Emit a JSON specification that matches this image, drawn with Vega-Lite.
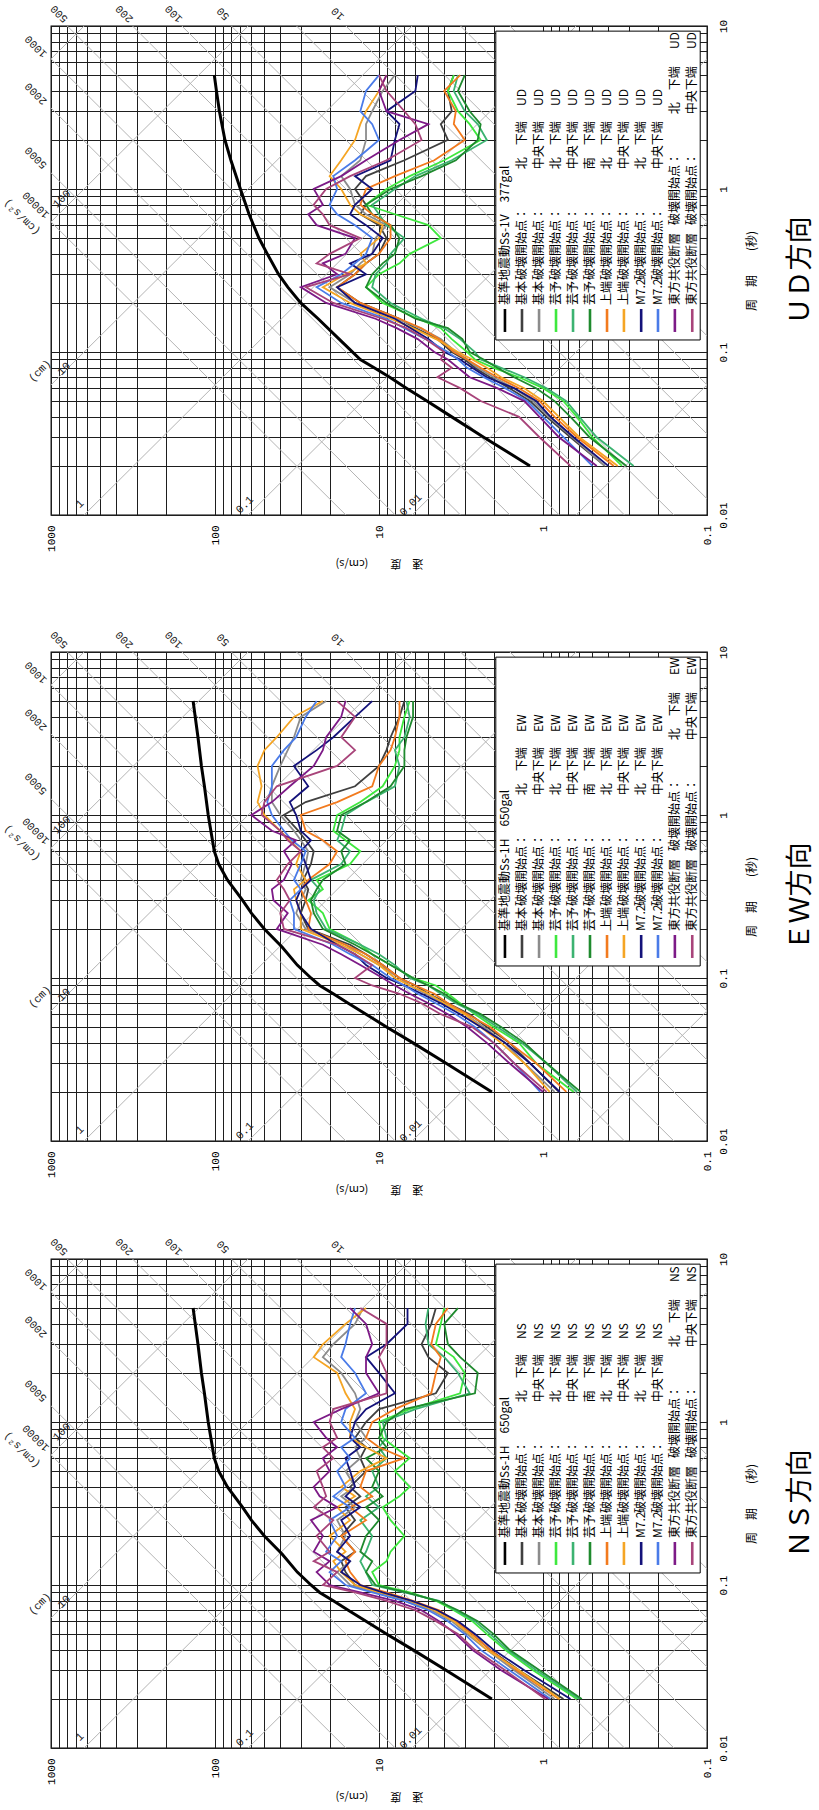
{
"$schema": "https://vega.github.io/schema/vega-lite/v6.json",
"padding": {"left": 0, "top": 2, "right": 0, "bottom": 0},
"background": "#ffffff",
"spacing": 58,
"config": {"view": {"stroke": "#000000", "strokeWidth": 1.3}},
"datasets": {
"diag": [
{"T1":0.005,"V1":0.00079577,"T2":20,"V2":3.1831},
{"T1":0.005,"V1":0.0015915,"T2":20,"V2":6.3662},
{"T1":0.005,"V1":0.0039789,"T2":20,"V2":15.915},
{"T1":0.005,"V1":0.0079577,"T2":20,"V2":31.831},
{"T1":0.005,"V1":0.015915,"T2":20,"V2":63.662},
{"T1":0.005,"V1":0.039789,"T2":20,"V2":159.15},
{"T1":0.005,"V1":0.079577,"T2":20,"V2":318.31},
{"T1":0.005,"V1":0.15915,"T2":20,"V2":636.62},
{"T1":0.005,"V1":0.39789,"T2":20,"V2":1591.5},
{"T1":0.005,"V1":0.79577,"T2":20,"V2":3183.1},
{"T1":0.005,"V1":1.5915,"T2":20,"V2":6366.2},
{"T1":0.005,"V1":3.9789,"T2":20,"V2":15915},
{"T1":0.005,"V1":7.9577,"T2":20,"V2":31831},
{"T1":0.005,"V1":1.2566,"T2":20,"V2":0.00031416},
{"T1":0.005,"V1":12.566,"T2":20,"V2":0.0031416},
{"T1":0.005,"V1":125.66,"T2":20,"V2":0.031416},
{"T1":0.005,"V1":1256.6,"T2":20,"V2":0.31416},
{"T1":0.005,"V1":12566,"T2":20,"V2":3.1416},
{"T1":0.005,"V1":125664,"T2":20,"V2":31.416},
{"T1":0.005,"V1":1256637,"T2":20,"V2":314.16}
],
"box": [{"V1":1.94,"V2":0.11,"T1":0.1185,"T2":9.3}],
"albl": [
{"txt":"500","T":11.9,"V":889},{"txt":"200","T":11.9,"V":356},{"txt":"100","T":11.9,"V":178},{"txt":"50","T":11.9,"V":89},{"txt":"10","T":11.9,"V":17.8},
{"txt":"1000","T":7.5,"V":1234},{"txt":"2000","T":3.85,"V":1234},{"txt":"5000","T":1.56,"V":1234},{"txt":"10000","T":0.8,"V":1234},{"txt":"(cm/s²)","T":0.673,"V":1503}
],
"dlbl": [
{"txt":"1","T":0.01168,"V":665},{"txt":"0.1","T":0.01152,"V":65.7},{"txt":"0.01","T":0.01152,"V":6.39},
{"txt":"10","T":0.0787,"V":833},{"txt":"(cm)","T":0.0765,"V":1167},{"txt":"100","T":0.868,"V":857}
],
"legrow": [
{"k":1,"LV":1.706,"T1":0.1327,"T2":0.1836,"TS":0.1942,"TD":3.23},
{"k":2,"LV":1.343,"T1":0.1327,"T2":0.1836,"TS":0.1942,"TD":3.23},
{"k":3,"LV":1.057,"T1":0.1327,"T2":0.1836,"TS":0.1942,"TD":3.23},
{"k":4,"LV":0.833,"T1":0.1327,"T2":0.1836,"TS":0.1942,"TD":3.23},
{"k":5,"LV":0.656,"T1":0.1327,"T2":0.1836,"TS":0.1942,"TD":3.23},
{"k":6,"LV":0.517,"T1":0.1327,"T2":0.1836,"TS":0.1942,"TD":3.23},
{"k":7,"LV":0.407,"T1":0.1327,"T2":0.1836,"TS":0.1942,"TD":3.23},
{"k":8,"LV":0.321,"T1":0.1327,"T2":0.1836,"TS":0.1942,"TD":3.23},
{"k":9,"LV":0.252,"T1":0.1327,"T2":0.1836,"TS":0.1942,"TD":3.23},
{"k":10,"LV":0.199,"T1":0.1327,"T2":0.1836,"TS":0.1942,"TD":3.23},
{"k":11,"LV":0.157,"T1":0.1327,"T2":0.1836,"TS":0.1942,"TD":7.22},
{"k":12,"LV":0.123,"T1":0.1327,"T2":0.1836,"TS":0.1942,"TD":7.22}
],
"legtxt": [
{"k":2,"LV":1.343,"T":0.1942,"txt":"基本"},{"k":2,"LV":1.343,"T":0.2765,"txt":"破壊開始点：　　　 北　下端"},
{"k":3,"LV":1.057,"T":0.1942,"txt":"基本"},{"k":3,"LV":1.057,"T":0.2765,"txt":"破壊開始点：　　　 中央下端"},
{"k":4,"LV":0.833,"T":0.1942,"txt":"芸予"},{"k":4,"LV":0.833,"T":0.2765,"txt":"破壊開始点：　　　 北　下端"},
{"k":5,"LV":0.656,"T":0.1942,"txt":"芸予"},{"k":5,"LV":0.656,"T":0.2765,"txt":"破壊開始点：　　　 中央下端"},
{"k":6,"LV":0.517,"T":0.1942,"txt":"芸予"},{"k":6,"LV":0.517,"T":0.2765,"txt":"破壊開始点：　　　 南　下端"},
{"k":7,"LV":0.407,"T":0.1942,"txt":"上端"},{"k":7,"LV":0.407,"T":0.2765,"txt":"破壊開始点：　　　 北　下端"},
{"k":8,"LV":0.321,"T":0.1942,"txt":"上端"},{"k":8,"LV":0.321,"T":0.2765,"txt":"破壊開始点：　　　 中央下端"},
{"k":9,"LV":0.252,"T":0.1942,"txt":"M7.2"},{"k":9,"LV":0.252,"T":0.2765,"txt":"破壊開始点：　　　 北　下端"},
{"k":10,"LV":0.199,"T":0.1942,"txt":"M7.2"},{"k":10,"LV":0.199,"T":0.2765,"txt":"破壊開始点：　　　 中央下端"},
{"k":11,"LV":0.157,"T":0.1942,"txt":"東方共役断層"},{"k":11,"LV":0.157,"T":0.601,"txt":"破壊開始点：　　　 北　下端"},
{"k":12,"LV":0.123,"T":0.1942,"txt":"東方共役断層"},{"k":12,"LV":0.123,"T":0.601,"txt":"破壊開始点：　　　 中央下端"}
],
"ud": [
{"k":1,"T":0.02,"V":1.2},{"k":1,"T":0.03,"V":2.3},{"k":1,"T":0.04,"V":3.6},{"k":1,"T":0.05,"V":5.1},{"k":1,"T":0.06,"V":6.8},{"k":1,"T":0.07,"V":8.6},{"k":1,"T":0.08,"V":10.7},{"k":1,"T":0.09,"V":13},{"k":1,"T":0.12,"V":17.5},{"k":1,"T":0.16,"V":23.5},{"k":1,"T":0.2,"V":30},{"k":1,"T":0.25,"V":36},{"k":1,"T":0.3,"V":41},{"k":1,"T":0.4,"V":48},{"k":1,"T":0.5,"V":54},{"k":1,"T":0.7,"V":62},{"k":1,"T":1,"V":70},{"k":1,"T":1.5,"V":80},{"k":1,"T":2,"V":87},{"k":1,"T":3,"V":94},{"k":1,"T":4,"V":98},{"k":1,"T":5,"V":101},
{"k":2,"T":0.02,"V":0.42},{"k":2,"T":0.03,"V":0.68},{"k":2,"T":0.04,"V":0.95},{"k":2,"T":0.05,"V":1.2},{"k":2,"T":0.06,"V":1.6},{"k":2,"T":0.07,"V":2.1},{"k":2,"T":0.08,"V":2.6},{"k":2,"T":0.09,"V":3.0},{"k":2,"T":0.1,"V":3.6},{"k":2,"T":0.12,"V":4.4},{"k":2,"T":0.14,"V":6.0},{"k":2,"T":0.16,"V":7.5},{"k":2,"T":0.2,"V":13},{"k":2,"T":0.25,"V":18},{"k":2,"T":0.3,"V":14},{"k":2,"T":0.35,"V":12},{"k":2,"T":0.4,"V":10},{"k":2,"T":0.5,"V":9},{"k":2,"T":0.6,"V":10},{"k":2,"T":0.7,"V":13},{"k":2,"T":0.8,"V":12},{"k":2,"T":1,"V":14},{"k":2,"T":1.2,"V":12},{"k":2,"T":1.5,"V":7},{"k":2,"T":2,"V":3.8},{"k":2,"T":2.5,"V":4.2},{"k":2,"T":3,"V":3.6},{"k":2,"T":4,"V":3.8},{"k":2,"T":5,"V":3.5},
{"k":3,"T":0.02,"V":0.42},{"k":3,"T":0.03,"V":0.66},{"k":3,"T":0.04,"V":0.92},{"k":3,"T":0.05,"V":1.15},{"k":3,"T":0.06,"V":1.5},{"k":3,"T":0.07,"V":2.0},{"k":3,"T":0.08,"V":2.5},{"k":3,"T":0.09,"V":2.9},{"k":3,"T":0.1,"V":3.4},{"k":3,"T":0.12,"V":4.2},{"k":3,"T":0.14,"V":5.6},{"k":3,"T":0.16,"V":7.8},{"k":3,"T":0.2,"V":14},{"k":3,"T":0.25,"V":20},{"k":3,"T":0.3,"V":15},{"k":3,"T":0.35,"V":13},{"k":3,"T":0.4,"V":11},{"k":3,"T":0.5,"V":10.5},{"k":3,"T":0.6,"V":9},{"k":3,"T":0.7,"V":12},{"k":3,"T":0.8,"V":14},{"k":3,"T":1,"V":15},{"k":3,"T":1.2,"V":17},{"k":3,"T":1.5,"V":13},{"k":3,"T":2,"V":12},{"k":3,"T":2.5,"V":12},{"k":3,"T":3,"V":11},{"k":3,"T":4,"V":9.5},{"k":3,"T":5,"V":8},
{"k":4,"T":0.02,"V":0.33},{"k":4,"T":0.03,"V":0.5},{"k":4,"T":0.04,"V":0.62},{"k":4,"T":0.05,"V":0.75},{"k":4,"T":0.06,"V":1.0},{"k":4,"T":0.07,"V":1.4},{"k":4,"T":0.08,"V":2.0},{"k":4,"T":0.09,"V":2.6},{"k":4,"T":0.1,"V":2.9},{"k":4,"T":0.12,"V":3.6},{"k":4,"T":0.14,"V":4.2},{"k":4,"T":0.16,"V":5.8},{"k":4,"T":0.2,"V":9.5},{"k":4,"T":0.25,"V":12},{"k":4,"T":0.3,"V":10},{"k":4,"T":0.35,"V":7.5},{"k":4,"T":0.4,"V":6.5},{"k":4,"T":0.5,"V":4.2},{"k":4,"T":0.6,"V":5.0},{"k":4,"T":0.7,"V":8},{"k":4,"T":0.8,"V":12},{"k":4,"T":1,"V":9},{"k":4,"T":1.2,"V":6.5},{"k":4,"T":1.5,"V":4},{"k":4,"T":2,"V":2.4},{"k":4,"T":2.5,"V":2.8},{"k":4,"T":3,"V":3.3},{"k":4,"T":4,"V":3.8},{"k":4,"T":5,"V":3.5},
{"k":5,"T":0.02,"V":0.28},{"k":5,"T":0.03,"V":0.47},{"k":5,"T":0.04,"V":0.6},{"k":5,"T":0.05,"V":0.72},{"k":5,"T":0.06,"V":0.95},{"k":5,"T":0.07,"V":1.3},{"k":5,"T":0.08,"V":1.8},{"k":5,"T":0.09,"V":2.4},{"k":5,"T":0.1,"V":2.6},{"k":5,"T":0.12,"V":3.2},{"k":5,"T":0.14,"V":4.0},{"k":5,"T":0.16,"V":5.5},{"k":5,"T":0.2,"V":8.5},{"k":5,"T":0.25,"V":11},{"k":5,"T":0.3,"V":10.5},{"k":5,"T":0.35,"V":9},{"k":5,"T":0.4,"V":8.5},{"k":5,"T":0.5,"V":7},{"k":5,"T":0.6,"V":9},{"k":5,"T":0.7,"V":10},{"k":5,"T":0.8,"V":11},{"k":5,"T":1,"V":8},{"k":5,"T":1.2,"V":6},{"k":5,"T":1.5,"V":3.6},{"k":5,"T":2,"V":2.2},{"k":5,"T":2.5,"V":2.5},{"k":5,"T":3,"V":3.0},{"k":5,"T":4,"V":3.5},{"k":5,"T":5,"V":3.3},
{"k":6,"T":0.02,"V":0.31},{"k":6,"T":0.03,"V":0.52},{"k":6,"T":0.04,"V":0.68},{"k":6,"T":0.05,"V":0.85},{"k":6,"T":0.06,"V":1.1},{"k":6,"T":0.07,"V":1.5},{"k":6,"T":0.08,"V":1.9},{"k":6,"T":0.09,"V":2.3},{"k":6,"T":0.1,"V":2.8},{"k":6,"T":0.12,"V":3.1},{"k":6,"T":0.14,"V":3.8},{"k":6,"T":0.16,"V":6.0},{"k":6,"T":0.2,"V":9.0},{"k":6,"T":0.25,"V":12},{"k":6,"T":0.3,"V":11},{"k":6,"T":0.35,"V":9.5},{"k":6,"T":0.4,"V":8.0},{"k":6,"T":0.5,"V":7.5},{"k":6,"T":0.6,"V":8.5},{"k":6,"T":0.7,"V":11},{"k":6,"T":0.8,"V":12},{"k":6,"T":1,"V":8.5},{"k":6,"T":1.2,"V":5.5},{"k":6,"T":1.5,"V":3.4},{"k":6,"T":2,"V":2.5},{"k":6,"T":2.5,"V":2.4},{"k":6,"T":3,"V":2.8},{"k":6,"T":4,"V":3.3},{"k":6,"T":5,"V":3.0},
{"k":7,"T":0.02,"V":0.37},{"k":7,"T":0.03,"V":0.62},{"k":7,"T":0.04,"V":0.85},{"k":7,"T":0.05,"V":1.05},{"k":7,"T":0.06,"V":1.4},{"k":7,"T":0.07,"V":1.9},{"k":7,"T":0.08,"V":2.4},{"k":7,"T":0.09,"V":2.9},{"k":7,"T":0.1,"V":3.5},{"k":7,"T":0.12,"V":4.3},{"k":7,"T":0.14,"V":5.5},{"k":7,"T":0.16,"V":7.5},{"k":7,"T":0.2,"V":13},{"k":7,"T":0.25,"V":18},{"k":7,"T":0.3,"V":14},{"k":7,"T":0.35,"V":12},{"k":7,"T":0.4,"V":10},{"k":7,"T":0.5,"V":8.5},{"k":7,"T":0.6,"V":8.5},{"k":7,"T":0.7,"V":11},{"k":7,"T":0.8,"V":13},{"k":7,"T":1,"V":12},{"k":7,"T":1.2,"V":8},{"k":7,"T":1.5,"V":4.6},{"k":7,"T":2,"V":3.0},{"k":7,"T":2.5,"V":3.5},{"k":7,"T":3,"V":3.4},{"k":7,"T":4,"V":4.0},{"k":7,"T":5,"V":3.2},
{"k":8,"T":0.02,"V":0.35},{"k":8,"T":0.03,"V":0.6},{"k":8,"T":0.04,"V":0.8},{"k":8,"T":0.05,"V":1.0},{"k":8,"T":0.06,"V":1.3},{"k":8,"T":0.07,"V":1.8},{"k":8,"T":0.08,"V":2.2},{"k":8,"T":0.09,"V":2.7},{"k":8,"T":0.1,"V":3.3},{"k":8,"T":0.12,"V":4.5},{"k":8,"T":0.14,"V":6.2},{"k":8,"T":0.16,"V":8.5},{"k":8,"T":0.2,"V":15},{"k":8,"T":0.25,"V":22},{"k":8,"T":0.3,"V":16},{"k":8,"T":0.35,"V":12},{"k":8,"T":0.4,"V":13},{"k":8,"T":0.5,"V":10},{"k":8,"T":0.6,"V":9.5},{"k":8,"T":0.7,"V":13},{"k":8,"T":0.8,"V":15},{"k":8,"T":1,"V":17},{"k":8,"T":1.2,"V":20},{"k":8,"T":1.5,"V":17},{"k":8,"T":2,"V":14},{"k":8,"T":2.5,"V":13},{"k":8,"T":3,"V":12},{"k":8,"T":4,"V":10},{"k":8,"T":5,"V":9},
{"k":9,"T":0.02,"V":0.40},{"k":9,"T":0.03,"V":0.65},{"k":9,"T":0.04,"V":0.9},{"k":9,"T":0.05,"V":1.1},{"k":9,"T":0.06,"V":1.5},{"k":9,"T":0.07,"V":2.2},{"k":9,"T":0.08,"V":2.7},{"k":9,"T":0.09,"V":3.2},{"k":9,"T":0.1,"V":4.0},{"k":9,"T":0.12,"V":5.0},{"k":9,"T":0.14,"V":6.4},{"k":9,"T":0.16,"V":8.0},{"k":9,"T":0.2,"V":14},{"k":9,"T":0.25,"V":18},{"k":9,"T":0.3,"V":12},{"k":9,"T":0.35,"V":15},{"k":9,"T":0.4,"V":11},{"k":9,"T":0.5,"V":9.5},{"k":9,"T":0.6,"V":12},{"k":9,"T":0.7,"V":15},{"k":9,"T":0.8,"V":14},{"k":9,"T":1,"V":11},{"k":9,"T":1.2,"V":14},{"k":9,"T":1.5,"V":8.5},{"k":9,"T":2,"V":8.0},{"k":9,"T":2.5,"V":7.5},{"k":9,"T":3,"V":9},{"k":9,"T":4,"V":6.0},{"k":9,"T":5,"V":5.8},
{"k":10,"T":0.02,"V":0.50},{"k":10,"T":0.03,"V":0.75},{"k":10,"T":0.04,"V":1.0},{"k":10,"T":0.05,"V":1.25},{"k":10,"T":0.06,"V":1.7},{"k":10,"T":0.07,"V":2.3},{"k":10,"T":0.08,"V":2.9},{"k":10,"T":0.09,"V":3.3},{"k":10,"T":0.1,"V":3.8},{"k":10,"T":0.12,"V":5.2},{"k":10,"T":0.14,"V":7.0},{"k":10,"T":0.16,"V":9.0},{"k":10,"T":0.2,"V":17},{"k":10,"T":0.25,"V":24},{"k":10,"T":0.3,"V":17},{"k":10,"T":0.35,"V":14},{"k":10,"T":0.4,"V":12},{"k":10,"T":0.5,"V":11},{"k":10,"T":0.6,"V":14},{"k":10,"T":0.7,"V":18},{"k":10,"T":0.8,"V":20},{"k":10,"T":1,"V":18},{"k":10,"T":1.2,"V":19},{"k":10,"T":1.5,"V":14},{"k":10,"T":2,"V":10},{"k":10,"T":2.5,"V":11},{"k":10,"T":3,"V":13},{"k":10,"T":4,"V":12},{"k":10,"T":5,"V":10},
{"k":11,"T":0.02,"V":0.47},{"k":11,"T":0.03,"V":0.8},{"k":11,"T":0.04,"V":1.05},{"k":11,"T":0.05,"V":1.3},{"k":11,"T":0.06,"V":1.9},{"k":11,"T":0.07,"V":2.8},{"k":11,"T":0.08,"V":3.3},{"k":11,"T":0.09,"V":3.8},{"k":11,"T":0.1,"V":4.6},{"k":11,"T":0.12,"V":5.8},{"k":11,"T":0.14,"V":7.8},{"k":11,"T":0.16,"V":10.5},{"k":11,"T":0.2,"V":21},{"k":11,"T":0.25,"V":30},{"k":11,"T":0.3,"V":18},{"k":11,"T":0.35,"V":22},{"k":11,"T":0.4,"V":16},{"k":11,"T":0.5,"V":14},{"k":11,"T":0.6,"V":24},{"k":11,"T":0.7,"V":27},{"k":11,"T":0.8,"V":22},{"k":11,"T":1,"V":25},{"k":11,"T":1.2,"V":17},{"k":11,"T":1.5,"V":12},{"k":11,"T":2,"V":7.5},{"k":11,"T":2.5,"V":5.0},{"k":11,"T":3,"V":9},{"k":11,"T":4,"V":10},{"k":11,"T":5,"V":9},
{"k":12,"T":0.02,"V":0.68},{"k":12,"T":0.03,"V":1.05},{"k":12,"T":0.04,"V":1.4},{"k":12,"T":0.05,"V":2.4},{"k":12,"T":0.06,"V":3.2},{"k":12,"T":0.07,"V":4.4},{"k":12,"T":0.08,"V":3.6},{"k":12,"T":0.09,"V":4.2},{"k":12,"T":0.1,"V":4.0},{"k":12,"T":0.12,"V":5.2},{"k":12,"T":0.14,"V":6.8},{"k":12,"T":0.16,"V":9.5},{"k":12,"T":0.2,"V":19},{"k":12,"T":0.25,"V":28},{"k":12,"T":0.3,"V":15},{"k":12,"T":0.35,"V":24},{"k":12,"T":0.4,"V":20},{"k":12,"T":0.5,"V":13},{"k":12,"T":0.6,"V":20},{"k":12,"T":0.7,"V":22},{"k":12,"T":0.8,"V":25},{"k":12,"T":1,"V":21},{"k":12,"T":1.2,"V":15},{"k":12,"T":1.5,"V":9},{"k":12,"T":2,"V":5.5},{"k":12,"T":2.5,"V":6.0},{"k":12,"T":3,"V":7},{"k":12,"T":4,"V":9},{"k":12,"T":5,"V":10}
],
"ew": [
{"k":1,"T":0.02,"V":2.05},{"k":1,"T":0.03,"V":3.9},{"k":1,"T":0.04,"V":6.2},{"k":1,"T":0.05,"V":9.0},{"k":1,"T":0.06,"V":12},{"k":1,"T":0.07,"V":15.4},{"k":1,"T":0.08,"V":19},{"k":1,"T":0.09,"V":23},{"k":1,"T":0.1,"V":26},{"k":1,"T":0.12,"V":31.5},{"k":1,"T":0.155,"V":39},{"k":1,"T":0.2,"V":50},{"k":1,"T":0.25,"V":60},{"k":1,"T":0.3,"V":68},{"k":1,"T":0.4,"V":84},{"k":1,"T":0.5,"V":95},{"k":1,"T":0.6,"V":101},{"k":1,"T":0.8,"V":106},{"k":1,"T":1,"V":110},{"k":1,"T":1.5,"V":116},{"k":1,"T":2,"V":121},{"k":1,"T":3,"V":127},{"k":1,"T":4,"V":132},{"k":1,"T":5,"V":136},
{"k":2,"T":0.02,"V":0.80},{"k":2,"T":0.03,"V":1.2},{"k":2,"T":0.04,"V":1.6},{"k":2,"T":0.05,"V":2.2},{"k":2,"T":0.06,"V":2.8},{"k":2,"T":0.07,"V":3.8},{"k":2,"T":0.08,"V":5.0},{"k":2,"T":0.09,"V":6},{"k":2,"T":0.1,"V":7.5},{"k":2,"T":0.12,"V":9.5},{"k":2,"T":0.14,"V":12},{"k":2,"T":0.16,"V":15},{"k":2,"T":0.2,"V":27},{"k":2,"T":0.25,"V":30},{"k":2,"T":0.3,"V":28},{"k":2,"T":0.35,"V":27},{"k":2,"T":0.4,"V":29},{"k":2,"T":0.5,"V":26},{"k":2,"T":0.6,"V":25},{"k":2,"T":0.7,"V":28},{"k":2,"T":0.8,"V":31},{"k":2,"T":1,"V":38},{"k":2,"T":1.2,"V":28},{"k":2,"T":1.5,"V":14},{"k":2,"T":2,"V":10},{"k":2,"T":2.5,"V":9},{"k":2,"T":3,"V":8.5},{"k":2,"T":4,"V":7.5},{"k":2,"T":5,"V":7},
{"k":3,"T":0.02,"V":0.85},{"k":3,"T":0.03,"V":1.3},{"k":3,"T":0.04,"V":1.7},{"k":3,"T":0.05,"V":2.3},{"k":3,"T":0.06,"V":3.0},{"k":3,"T":0.07,"V":4.0},{"k":3,"T":0.08,"V":5.2},{"k":3,"T":0.09,"V":6.5},{"k":3,"T":0.1,"V":7.5},{"k":3,"T":0.12,"V":10},{"k":3,"T":0.14,"V":13},{"k":3,"T":0.16,"V":16},{"k":3,"T":0.2,"V":28},{"k":3,"T":0.25,"V":32},{"k":3,"T":0.3,"V":30},{"k":3,"T":0.35,"V":28},{"k":3,"T":0.4,"V":30},{"k":3,"T":0.5,"V":28},{"k":3,"T":0.6,"V":27},{"k":3,"T":0.7,"V":30},{"k":3,"T":0.8,"V":33},{"k":3,"T":1,"V":40},{"k":3,"T":1.2,"V":45},{"k":3,"T":1.5,"V":45},{"k":3,"T":2,"V":40},{"k":3,"T":2.5,"V":36},{"k":3,"T":3,"V":33},{"k":3,"T":4,"V":30},{"k":3,"T":5,"V":21},
{"k":4,"T":0.02,"V":0.65},{"k":4,"T":0.03,"V":1.1},{"k":4,"T":0.04,"V":1.4},{"k":4,"T":0.05,"V":2.0},{"k":4,"T":0.06,"V":2.6},{"k":4,"T":0.07,"V":3.2},{"k":4,"T":0.08,"V":3.8},{"k":4,"T":0.09,"V":4.5},{"k":4,"T":0.1,"V":6.2},{"k":4,"T":0.12,"V":8.5},{"k":4,"T":0.14,"V":11},{"k":4,"T":0.16,"V":13},{"k":4,"T":0.2,"V":20},{"k":4,"T":0.25,"V":22},{"k":4,"T":0.3,"V":27},{"k":4,"T":0.35,"V":22},{"k":4,"T":0.4,"V":24},{"k":4,"T":0.5,"V":15},{"k":4,"T":0.6,"V":13},{"k":4,"T":0.7,"V":16},{"k":4,"T":0.8,"V":19},{"k":4,"T":1,"V":18},{"k":4,"T":1.2,"V":13},{"k":4,"T":1.5,"V":9.5},{"k":4,"T":2,"V":8},{"k":4,"T":2.5,"V":7.5},{"k":4,"T":3,"V":7.5},{"k":4,"T":4,"V":7},{"k":4,"T":5,"V":6.5},
{"k":5,"T":0.02,"V":0.62},{"k":5,"T":0.03,"V":0.95},{"k":5,"T":0.04,"V":1.35},{"k":5,"T":0.05,"V":1.9},{"k":5,"T":0.06,"V":2.5},{"k":5,"T":0.07,"V":3.4},{"k":5,"T":0.08,"V":4.2},{"k":5,"T":0.09,"V":5},{"k":5,"T":0.1,"V":6.5},{"k":5,"T":0.12,"V":8},{"k":5,"T":0.14,"V":10},{"k":5,"T":0.16,"V":13},{"k":5,"T":0.2,"V":21},{"k":5,"T":0.25,"V":24},{"k":5,"T":0.3,"V":25},{"k":5,"T":0.35,"V":23},{"k":5,"T":0.4,"V":26},{"k":5,"T":0.5,"V":17},{"k":5,"T":0.6,"V":15},{"k":5,"T":0.7,"V":18},{"k":5,"T":0.8,"V":17},{"k":5,"T":1,"V":16},{"k":5,"T":1.2,"V":12},{"k":5,"T":1.5,"V":8},{"k":5,"T":2,"V":7.5},{"k":5,"T":2.5,"V":8},{"k":5,"T":3,"V":7},{"k":5,"T":4,"V":6.5},{"k":5,"T":5,"V":6.8},
{"k":6,"T":0.02,"V":0.59},{"k":6,"T":0.03,"V":0.95},{"k":6,"T":0.04,"V":1.3},{"k":6,"T":0.05,"V":1.8},{"k":6,"T":0.06,"V":2.4},{"k":6,"T":0.07,"V":3.3},{"k":6,"T":0.08,"V":4.0},{"k":6,"T":0.09,"V":5},{"k":6,"T":0.1,"V":6.2},{"k":6,"T":0.12,"V":8.5},{"k":6,"T":0.14,"V":11},{"k":6,"T":0.16,"V":14},{"k":6,"T":0.2,"V":22},{"k":6,"T":0.25,"V":25},{"k":6,"T":0.3,"V":26},{"k":6,"T":0.35,"V":24},{"k":6,"T":0.4,"V":22},{"k":6,"T":0.5,"V":16},{"k":6,"T":0.6,"V":17},{"k":6,"T":0.7,"V":15},{"k":6,"T":0.8,"V":18},{"k":6,"T":1,"V":17},{"k":6,"T":1.2,"V":12},{"k":6,"T":1.5,"V":8.5},{"k":6,"T":2,"V":7},{"k":6,"T":2.5,"V":7},{"k":6,"T":3,"V":6.8},{"k":6,"T":4,"V":6.2},{"k":6,"T":5,"V":6.2},
{"k":7,"T":0.02,"V":0.72},{"k":7,"T":0.03,"V":1.1},{"k":7,"T":0.04,"V":1.6},{"k":7,"T":0.05,"V":2.1},{"k":7,"T":0.06,"V":2.9},{"k":7,"T":0.07,"V":3.8},{"k":7,"T":0.08,"V":4.6},{"k":7,"T":0.09,"V":6},{"k":7,"T":0.1,"V":7.5},{"k":7,"T":0.12,"V":9.5},{"k":7,"T":0.14,"V":12},{"k":7,"T":0.16,"V":16},{"k":7,"T":0.2,"V":27},{"k":7,"T":0.25,"V":26},{"k":7,"T":0.3,"V":28},{"k":7,"T":0.35,"V":30},{"k":7,"T":0.4,"V":27},{"k":7,"T":0.5,"V":20},{"k":7,"T":0.6,"V":18},{"k":7,"T":0.7,"V":22},{"k":7,"T":0.8,"V":28},{"k":7,"T":1,"V":30},{"k":7,"T":1.2,"V":18},{"k":7,"T":1.5,"V":11},{"k":7,"T":2,"V":10},{"k":7,"T":2.5,"V":8.5},{"k":7,"T":3,"V":8},{"k":7,"T":4,"V":7.5},{"k":7,"T":5,"V":7.5},
{"k":8,"T":0.02,"V":0.91},{"k":8,"T":0.03,"V":1.3},{"k":8,"T":0.04,"V":1.8},{"k":8,"T":0.05,"V":2.4},{"k":8,"T":0.06,"V":3.0},{"k":8,"T":0.07,"V":4.0},{"k":8,"T":0.08,"V":5.0},{"k":8,"T":0.09,"V":6.5},{"k":8,"T":0.1,"V":8},{"k":8,"T":0.12,"V":10},{"k":8,"T":0.14,"V":13},{"k":8,"T":0.16,"V":17},{"k":8,"T":0.2,"V":30},{"k":8,"T":0.25,"V":30},{"k":8,"T":0.3,"V":32},{"k":8,"T":0.35,"V":33},{"k":8,"T":0.4,"V":28},{"k":8,"T":0.5,"V":32},{"k":8,"T":0.6,"V":30},{"k":8,"T":0.7,"V":35},{"k":8,"T":0.8,"V":40},{"k":8,"T":1,"V":50},{"k":8,"T":1.2,"V":55},{"k":8,"T":1.5,"V":52},{"k":8,"T":2,"V":55},{"k":8,"T":2.5,"V":50},{"k":8,"T":3,"V":42},{"k":8,"T":4,"V":33},{"k":8,"T":5,"V":22},
{"k":9,"T":0.02,"V":0.79},{"k":9,"T":0.03,"V":1.2},{"k":9,"T":0.04,"V":1.7},{"k":9,"T":0.05,"V":2.4},{"k":9,"T":0.06,"V":3.2},{"k":9,"T":0.07,"V":4.2},{"k":9,"T":0.08,"V":5.5},{"k":9,"T":0.09,"V":7},{"k":9,"T":0.1,"V":9},{"k":9,"T":0.12,"V":12},{"k":9,"T":0.14,"V":14},{"k":9,"T":0.16,"V":18},{"k":9,"T":0.2,"V":26},{"k":9,"T":0.25,"V":30},{"k":9,"T":0.3,"V":32},{"k":9,"T":0.35,"V":30},{"k":9,"T":0.4,"V":26},{"k":9,"T":0.5,"V":28},{"k":9,"T":0.6,"V":30},{"k":9,"T":0.7,"V":26},{"k":9,"T":0.8,"V":30},{"k":9,"T":1,"V":32},{"k":9,"T":1.2,"V":35},{"k":9,"T":1.5,"V":27},{"k":9,"T":2,"V":33},{"k":9,"T":2.5,"V":24},{"k":9,"T":3,"V":19},{"k":9,"T":4,"V":14},{"k":9,"T":5,"V":11},
{"k":10,"T":0.02,"V":1.04},{"k":10,"T":0.03,"V":1.5},{"k":10,"T":0.04,"V":2.0},{"k":10,"T":0.05,"V":2.6},{"k":10,"T":0.06,"V":3.4},{"k":10,"T":0.07,"V":4.5},{"k":10,"T":0.08,"V":5.8},{"k":10,"T":0.09,"V":7},{"k":10,"T":0.1,"V":8.5},{"k":10,"T":0.12,"V":11},{"k":10,"T":0.14,"V":15},{"k":10,"T":0.16,"V":19},{"k":10,"T":0.2,"V":33},{"k":10,"T":0.25,"V":33},{"k":10,"T":0.3,"V":35},{"k":10,"T":0.35,"V":30},{"k":10,"T":0.4,"V":33},{"k":10,"T":0.5,"V":30},{"k":10,"T":0.6,"V":28},{"k":10,"T":0.7,"V":34},{"k":10,"T":0.8,"V":38},{"k":10,"T":1,"V":45},{"k":10,"T":1.2,"V":48},{"k":10,"T":1.5,"V":45},{"k":10,"T":2,"V":45},{"k":10,"T":2.5,"V":38},{"k":10,"T":3,"V":32},{"k":10,"T":4,"V":28},{"k":10,"T":5,"V":24},
{"k":11,"T":0.02,"V":1.0},{"k":11,"T":0.03,"V":1.6},{"k":11,"T":0.04,"V":2.2},{"k":11,"T":0.05,"V":2.9},{"k":11,"T":0.06,"V":3.8},{"k":11,"T":0.07,"V":5.0},{"k":11,"T":0.08,"V":6.5},{"k":11,"T":0.09,"V":8},{"k":11,"T":0.1,"V":9.5},{"k":11,"T":0.12,"V":13},{"k":11,"T":0.14,"V":17},{"k":11,"T":0.16,"V":22},{"k":11,"T":0.2,"V":42},{"k":11,"T":0.25,"V":36},{"k":11,"T":0.3,"V":44},{"k":11,"T":0.35,"V":45},{"k":11,"T":0.4,"V":38},{"k":11,"T":0.5,"V":34},{"k":11,"T":0.6,"V":38},{"k":11,"T":0.7,"V":32},{"k":11,"T":0.8,"V":45},{"k":11,"T":1,"V":60},{"k":11,"T":1.2,"V":45},{"k":11,"T":1.5,"V":35},{"k":11,"T":2,"V":25},{"k":11,"T":2.5,"V":22},{"k":11,"T":3,"V":21},{"k":11,"T":4,"V":17},{"k":11,"T":5,"V":16},
{"k":12,"T":0.02,"V":0.95},{"k":12,"T":0.03,"V":1.5},{"k":12,"T":0.04,"V":2.0},{"k":12,"T":0.05,"V":2.7},{"k":12,"T":0.06,"V":4.2},{"k":12,"T":0.07,"V":5.5},{"k":12,"T":0.08,"V":7.5},{"k":12,"T":0.09,"V":11},{"k":12,"T":0.1,"V":14},{"k":12,"T":0.12,"V":11},{"k":12,"T":0.14,"V":14},{"k":12,"T":0.16,"V":18},{"k":12,"T":0.2,"V":38},{"k":12,"T":0.25,"V":40},{"k":12,"T":0.3,"V":35},{"k":12,"T":0.35,"V":38},{"k":12,"T":0.4,"V":42},{"k":12,"T":0.5,"V":36},{"k":12,"T":0.6,"V":30},{"k":12,"T":0.7,"V":36},{"k":12,"T":0.8,"V":40},{"k":12,"T":1,"V":52},{"k":12,"T":1.2,"V":50},{"k":12,"T":1.5,"V":42},{"k":12,"T":2,"V":18},{"k":12,"T":2.5,"V":14},{"k":12,"T":3,"V":17},{"k":12,"T":4,"V":14},{"k":12,"T":5,"V":18}
],
"ns": [
{"k":1,"T":0.02,"V":2.05},{"k":1,"T":0.03,"V":3.9},{"k":1,"T":0.04,"V":6.2},{"k":1,"T":0.05,"V":9.0},{"k":1,"T":0.06,"V":12},{"k":1,"T":0.07,"V":15.4},{"k":1,"T":0.08,"V":19},{"k":1,"T":0.09,"V":23},{"k":1,"T":0.1,"V":26},{"k":1,"T":0.12,"V":31.5},{"k":1,"T":0.155,"V":39},{"k":1,"T":0.2,"V":50},{"k":1,"T":0.25,"V":60},{"k":1,"T":0.3,"V":68},{"k":1,"T":0.4,"V":84},{"k":1,"T":0.5,"V":95},{"k":1,"T":0.6,"V":101},{"k":1,"T":0.8,"V":106},{"k":1,"T":1,"V":110},{"k":1,"T":1.5,"V":116},{"k":1,"T":2,"V":121},{"k":1,"T":3,"V":127},{"k":1,"T":4,"V":132},{"k":1,"T":5,"V":136},
{"k":2,"T":0.02,"V":0.75},{"k":2,"T":0.03,"V":1.4},{"k":2,"T":0.04,"V":2.1},{"k":2,"T":0.05,"V":2.7},{"k":2,"T":0.06,"V":3.4},{"k":2,"T":0.07,"V":4.5},{"k":2,"T":0.08,"V":6.5},{"k":2,"T":0.09,"V":10},{"k":2,"T":0.1,"V":14},{"k":2,"T":0.12,"V":16},{"k":2,"T":0.14,"V":17},{"k":2,"T":0.16,"V":14},{"k":2,"T":0.2,"V":17},{"k":2,"T":0.25,"V":14},{"k":2,"T":0.3,"V":16},{"k":2,"T":0.35,"V":13},{"k":2,"T":0.4,"V":15},{"k":2,"T":0.5,"V":12},{"k":2,"T":0.6,"V":13},{"k":2,"T":0.7,"V":12},{"k":2,"T":0.8,"V":14},{"k":2,"T":1,"V":12},{"k":2,"T":1.2,"V":10},{"k":2,"T":1.5,"V":4.5},{"k":2,"T":2,"V":3.8},{"k":2,"T":2.5,"V":5},{"k":2,"T":3,"V":5.5},{"k":2,"T":4,"V":4.8},{"k":2,"T":5,"V":4.5},
{"k":3,"T":0.02,"V":0.85},{"k":3,"T":0.03,"V":1.5},{"k":3,"T":0.04,"V":2.2},{"k":3,"T":0.05,"V":2.9},{"k":3,"T":0.06,"V":3.6},{"k":3,"T":0.07,"V":4.8},{"k":3,"T":0.08,"V":7},{"k":3,"T":0.09,"V":10.5},{"k":3,"T":0.1,"V":15},{"k":3,"T":0.12,"V":18},{"k":3,"T":0.14,"V":15},{"k":3,"T":0.16,"V":18},{"k":3,"T":0.2,"V":16},{"k":3,"T":0.25,"V":18},{"k":3,"T":0.3,"V":14},{"k":3,"T":0.35,"V":17},{"k":3,"T":0.4,"V":14},{"k":3,"T":0.5,"V":16},{"k":3,"T":0.6,"V":13},{"k":3,"T":0.7,"V":14},{"k":3,"T":0.8,"V":12},{"k":3,"T":1,"V":14},{"k":3,"T":1.2,"V":13},{"k":3,"T":1.5,"V":14},{"k":3,"T":2,"V":17},{"k":3,"T":2.5,"V":22},{"k":3,"T":3,"V":19},{"k":3,"T":4,"V":14},{"k":3,"T":5,"V":12.5},
{"k":4,"T":0.02,"V":0.62},{"k":4,"T":0.03,"V":1.15},{"k":4,"T":0.04,"V":1.7},{"k":4,"T":0.05,"V":2.2},{"k":4,"T":0.06,"V":2.7},{"k":4,"T":0.07,"V":3.5},{"k":4,"T":0.08,"V":4.5},{"k":4,"T":0.09,"V":6.5},{"k":4,"T":0.1,"V":10},{"k":4,"T":0.12,"V":11},{"k":4,"T":0.14,"V":9},{"k":4,"T":0.16,"V":8.5},{"k":4,"T":0.2,"V":7},{"k":4,"T":0.25,"V":8.5},{"k":4,"T":0.3,"V":9.5},{"k":4,"T":0.35,"V":7.5},{"k":4,"T":0.4,"V":6.5},{"k":4,"T":0.5,"V":8},{"k":4,"T":0.6,"V":6.5},{"k":4,"T":0.7,"V":8},{"k":4,"T":0.8,"V":9.5},{"k":4,"T":1,"V":10},{"k":4,"T":1.2,"V":6.5},{"k":4,"T":1.5,"V":3.2},{"k":4,"T":2,"V":3.0},{"k":4,"T":2.5,"V":3.5},{"k":4,"T":3,"V":4.5},{"k":4,"T":4,"V":4.2},{"k":4,"T":5,"V":4.0},
{"k":5,"T":0.02,"V":0.60},{"k":5,"T":0.03,"V":1.1},{"k":5,"T":0.04,"V":1.65},{"k":5,"T":0.05,"V":2.1},{"k":5,"T":0.06,"V":2.6},{"k":5,"T":0.07,"V":3.4},{"k":5,"T":0.08,"V":4.3},{"k":5,"T":0.09,"V":7},{"k":5,"T":0.1,"V":11},{"k":5,"T":0.12,"V":12},{"k":5,"T":0.14,"V":13},{"k":5,"T":0.16,"V":12},{"k":5,"T":0.2,"V":11},{"k":5,"T":0.25,"V":13},{"k":5,"T":0.3,"V":10},{"k":5,"T":0.35,"V":12},{"k":5,"T":0.4,"V":10},{"k":5,"T":0.5,"V":11},{"k":5,"T":0.6,"V":9},{"k":5,"T":0.7,"V":10},{"k":5,"T":0.8,"V":9},{"k":5,"T":1,"V":9.5},{"k":5,"T":1.2,"V":6},{"k":5,"T":1.5,"V":2.8},{"k":5,"T":2,"V":3.3},{"k":5,"T":2.5,"V":4},{"k":5,"T":3,"V":5},{"k":5,"T":4,"V":5.2},{"k":5,"T":5,"V":5.0},
{"k":6,"T":0.02,"V":0.58},{"k":6,"T":0.03,"V":1.05},{"k":6,"T":0.04,"V":1.6},{"k":6,"T":0.05,"V":2.0},{"k":6,"T":0.06,"V":2.5},{"k":6,"T":0.07,"V":3.3},{"k":6,"T":0.08,"V":4.4},{"k":6,"T":0.09,"V":6.8},{"k":6,"T":0.1,"V":10.5},{"k":6,"T":0.12,"V":12},{"k":6,"T":0.14,"V":11},{"k":6,"T":0.16,"V":13},{"k":6,"T":0.2,"V":12},{"k":6,"T":0.25,"V":10},{"k":6,"T":0.3,"V":12},{"k":6,"T":0.35,"V":9.5},{"k":6,"T":0.4,"V":11},{"k":6,"T":0.5,"V":10},{"k":6,"T":0.6,"V":12},{"k":6,"T":0.7,"V":9},{"k":6,"T":0.8,"V":10},{"k":6,"T":1,"V":9},{"k":6,"T":1.2,"V":7},{"k":6,"T":1.5,"V":2.6},{"k":6,"T":2,"V":2.5},{"k":6,"T":2.5,"V":3.2},{"k":6,"T":3,"V":3.8},{"k":6,"T":4,"V":4.0},{"k":6,"T":5,"V":3.3},
{"k":7,"T":0.02,"V":0.80},{"k":7,"T":0.03,"V":1.45},{"k":7,"T":0.04,"V":2.1},{"k":7,"T":0.05,"V":2.7},{"k":7,"T":0.06,"V":3.4},{"k":7,"T":0.07,"V":4.3},{"k":7,"T":0.08,"V":6.2},{"k":7,"T":0.09,"V":9},{"k":7,"T":0.1,"V":13},{"k":7,"T":0.12,"V":15},{"k":7,"T":0.14,"V":16},{"k":7,"T":0.16,"V":14},{"k":7,"T":0.2,"V":17},{"k":7,"T":0.25,"V":12},{"k":7,"T":0.3,"V":15},{"k":7,"T":0.35,"V":11},{"k":7,"T":0.4,"V":13},{"k":7,"T":0.5,"V":12},{"k":7,"T":0.6,"V":7},{"k":7,"T":0.7,"V":10},{"k":7,"T":0.8,"V":12},{"k":7,"T":1,"V":11},{"k":7,"T":1.2,"V":8},{"k":7,"T":1.5,"V":4.8},{"k":7,"T":2,"V":4.5},{"k":7,"T":2.5,"V":4.2},{"k":7,"T":3,"V":4.8},{"k":7,"T":4,"V":4.5},{"k":7,"T":5,"V":3.8},
{"k":8,"T":0.02,"V":0.79},{"k":8,"T":0.03,"V":1.4},{"k":8,"T":0.04,"V":2.2},{"k":8,"T":0.05,"V":2.8},{"k":8,"T":0.06,"V":3.5},{"k":8,"T":0.07,"V":4.6},{"k":8,"T":0.08,"V":6.5},{"k":8,"T":0.09,"V":10},{"k":8,"T":0.1,"V":14},{"k":8,"T":0.12,"V":17},{"k":8,"T":0.14,"V":19},{"k":8,"T":0.16,"V":16},{"k":8,"T":0.2,"V":20},{"k":8,"T":0.25,"V":15},{"k":8,"T":0.3,"V":18},{"k":8,"T":0.35,"V":14},{"k":8,"T":0.4,"V":17},{"k":8,"T":0.5,"V":13},{"k":8,"T":0.6,"V":9},{"k":8,"T":0.7,"V":12},{"k":8,"T":0.8,"V":15},{"k":8,"T":1,"V":15},{"k":8,"T":1.2,"V":14},{"k":8,"T":1.5,"V":16},{"k":8,"T":2,"V":18},{"k":8,"T":2.5,"V":25},{"k":8,"T":3,"V":22},{"k":8,"T":4,"V":16},{"k":8,"T":5,"V":12},
{"k":9,"T":0.02,"V":0.68},{"k":9,"T":0.03,"V":1.3},{"k":9,"T":0.04,"V":2.0},{"k":9,"T":0.05,"V":2.6},{"k":9,"T":0.06,"V":3.3},{"k":9,"T":0.07,"V":4.4},{"k":9,"T":0.08,"V":6.3},{"k":9,"T":0.09,"V":9.5},{"k":9,"T":0.1,"V":13},{"k":9,"T":0.12,"V":17},{"k":9,"T":0.14,"V":15},{"k":9,"T":0.16,"V":18},{"k":9,"T":0.2,"V":15},{"k":9,"T":0.25,"V":17},{"k":9,"T":0.3,"V":13},{"k":9,"T":0.35,"V":16},{"k":9,"T":0.4,"V":14},{"k":9,"T":0.5,"V":15},{"k":9,"T":0.6,"V":16},{"k":9,"T":0.7,"V":13},{"k":9,"T":0.8,"V":15},{"k":9,"T":1,"V":14},{"k":9,"T":1.2,"V":12},{"k":9,"T":1.5,"V":8},{"k":9,"T":2,"V":10},{"k":9,"T":2.5,"V":12},{"k":9,"T":3,"V":9},{"k":9,"T":4,"V":6.7},{"k":9,"T":5,"V":6.7},
{"k":10,"T":0.02,"V":0.90},{"k":10,"T":0.03,"V":1.6},{"k":10,"T":0.04,"V":2.4},{"k":10,"T":0.05,"V":3.0},{"k":10,"T":0.06,"V":3.8},{"k":10,"T":0.07,"V":5.0},{"k":10,"T":0.08,"V":7},{"k":10,"T":0.09,"V":11},{"k":10,"T":0.1,"V":16},{"k":10,"T":0.12,"V":20},{"k":10,"T":0.14,"V":17},{"k":10,"T":0.16,"V":21},{"k":10,"T":0.2,"V":18},{"k":10,"T":0.25,"V":20},{"k":10,"T":0.3,"V":15},{"k":10,"T":0.35,"V":19},{"k":10,"T":0.4,"V":16},{"k":10,"T":0.5,"V":18},{"k":10,"T":0.6,"V":15},{"k":10,"T":0.7,"V":17},{"k":10,"T":0.8,"V":14},{"k":10,"T":1,"V":17},{"k":10,"T":1.2,"V":16},{"k":10,"T":1.5,"V":12},{"k":10,"T":2,"V":14},{"k":10,"T":2.5,"V":17},{"k":10,"T":3,"V":16},{"k":10,"T":4,"V":15},{"k":10,"T":5,"V":14},
{"k":11,"T":0.02,"V":0.93},{"k":11,"T":0.03,"V":1.8},{"k":11,"T":0.04,"V":2.7},{"k":11,"T":0.05,"V":3.4},{"k":11,"T":0.06,"V":4.3},{"k":11,"T":0.07,"V":5.5},{"k":11,"T":0.08,"V":8},{"k":11,"T":0.09,"V":13},{"k":11,"T":0.1,"V":20},{"k":11,"T":0.12,"V":24},{"k":11,"T":0.14,"V":20},{"k":11,"T":0.16,"V":25},{"k":11,"T":0.2,"V":22},{"k":11,"T":0.25,"V":26},{"k":11,"T":0.3,"V":18},{"k":11,"T":0.35,"V":23},{"k":11,"T":0.4,"V":25},{"k":11,"T":0.5,"V":20},{"k":11,"T":0.6,"V":22},{"k":11,"T":0.7,"V":18},{"k":11,"T":0.8,"V":21},{"k":11,"T":1,"V":25},{"k":11,"T":1.2,"V":17},{"k":11,"T":1.5,"V":10},{"k":11,"T":2,"V":12},{"k":11,"T":2.5,"V":12},{"k":11,"T":3,"V":11},{"k":11,"T":4,"V":12},{"k":11,"T":5,"V":15},
{"k":12,"T":0.02,"V":0.97},{"k":12,"T":0.03,"V":1.7},{"k":12,"T":0.04,"V":2.6},{"k":12,"T":0.05,"V":3.3},{"k":12,"T":0.06,"V":4.5},{"k":12,"T":0.07,"V":6.0},{"k":12,"T":0.08,"V":9},{"k":12,"T":0.09,"V":14},{"k":12,"T":0.1,"V":22},{"k":12,"T":0.12,"V":18},{"k":12,"T":0.14,"V":25},{"k":12,"T":0.16,"V":20},{"k":12,"T":0.2,"V":24},{"k":12,"T":0.25,"V":19},{"k":12,"T":0.3,"V":25},{"k":12,"T":0.35,"V":21},{"k":12,"T":0.4,"V":22},{"k":12,"T":0.5,"V":24},{"k":12,"T":0.6,"V":19},{"k":12,"T":0.7,"V":22},{"k":12,"T":0.8,"V":18},{"k":12,"T":1,"V":20},{"k":12,"T":1.2,"V":19},{"k":12,"T":1.5,"V":9},{"k":12,"T":2,"V":9},{"k":12,"T":2.5,"V":10},{"k":12,"T":3,"V":9},{"k":12,"T":4,"V":9},{"k":12,"T":5,"V":13}
]
},
"vconcat": [
{
"width": 656, "height": 489,
"title": {"text": "ＵＤ方向", "orient": "right", "angle": 270, "baseline": "top", "anchor": "middle", "font": "Noto Sans CJK JP", "fontSize": 27, "fontWeight": "normal", "color": "#000000", "offset": 4},
"layer": [
{"data": {"name": "diag"}, "mark": {"type": "rule", "clip": true, "color": "#b4b4b4", "strokeWidth": 1},
 "encoding": {
  "x": {"field": "V1", "type": "quantitative", "scale": {"type": "log", "domain": [0.1, 1000], "reverse": true, "nice": false},
   "axis": {"values": [0.1,0.2,0.3,0.4,0.5,0.6,0.7,0.8,0.9,1,2,3,4,5,6,7,8,9,10,20,30,40,50,60,70,80,90,100,200,300,400,500,600,700,800,900,1000], "format": "~g", "labelExpr": "indexof([0.1,1,10,100,1000], datum.value) >= 0 ? datum.label : ''", "grid": true, "gridColor": "#1e1e1e", "gridWidth": 1, "ticks": false, "domain": false, "labelAngle": 270, "labelAlign": "right", "labelBaseline": "middle", "labelPadding": 10, "labelFont": "Liberation Mono", "labelFontSize": 11, "labelColor": "#000000", "labelOverlap": false, "labelFlush": false, "labelBound": false, "title": "速　度　　(cm/s)", "titleAngle": 180, "titleBaseline": "bottom", "titleFont": "Noto Sans CJK JP", "titleFontSize": 11, "titleFontWeight": "normal", "titleColor": "#000000", "titlePadding": 6}},
  "y": {"field": "T1", "type": "quantitative", "scale": {"type": "log", "domain": [0.01, 10], "nice": false},
   "axis": {"orient": "right", "values": [0.01,0.02,0.03,0.04,0.05,0.06,0.07,0.08,0.09,0.1,0.2,0.3,0.4,0.5,0.6,0.7,0.8,0.9,1,2,3,4,5,6,7,8,9,10], "format": "~g", "labelExpr": "indexof([0.01,0.1,1,10], datum.value) >= 0 ? datum.label : ''", "grid": true, "gridColor": "#1e1e1e", "gridWidth": 1, "ticks": false, "domain": false, "labelAngle": 270, "labelAlign": "center", "labelBaseline": "top", "labelPadding": 10, "labelFont": "Liberation Mono", "labelFontSize": 11, "labelColor": "#000000", "labelOverlap": false, "labelFlush": false, "labelBound": false, "title": "周　期　　(秒)", "titleAngle": 270, "titleBaseline": "top", "titleFont": "Noto Sans CJK JP", "titleFontSize": 12, "titleFontWeight": "normal", "titleColor": "#000000", "titlePadding": 18}},
  "x2": {"field": "V2"}, "y2": {"field": "T2"}}},
{"data": {"name": "box"}, "mark": {"type": "rect", "fill": "#ffffff", "stroke": "#000000", "strokeWidth": 1},
 "encoding": {"x": {"field": "V1", "type": "quantitative"}, "x2": {"field": "V2"}, "y": {"field": "T1", "type": "quantitative"}, "y2": {"field": "T2"}}},
{"data": {"name": "ud"}, "transform": [{"filter": "datum.k > 1"}], "mark": {"type": "line", "strokeWidth": 1.8},
 "encoding": {"x": {"field": "V", "type": "quantitative"}, "y": {"field": "T", "type": "quantitative"}, "order": {"field": "T", "type": "quantitative"},
  "color": {"field": "k", "type": "nominal", "legend": null, "scale": {"domain": [1,2,3,4,5,6,7,8,9,10,11,12], "range": ["#000000","#404040","#8c8c8c","#3ee83e","#3cb371","#1f8a2e","#f27a1e","#f5a524","#14127a","#4a7be8","#7d1a87","#a8447a"]}}}},
{"data": {"name": "ud"}, "transform": [{"filter": "datum.k == 1"}], "mark": {"type": "line", "strokeWidth": 3, "color": "#000000"},
 "encoding": {"x": {"field": "V", "type": "quantitative"}, "y": {"field": "T", "type": "quantitative"}, "order": {"field": "T", "type": "quantitative"}}},
{"data": {"name": "legrow"}, "mark": {"type": "rule", "strokeWidth": 2.6},
 "encoding": {"x": {"field": "LV", "type": "quantitative"}, "y": {"field": "T1", "type": "quantitative"}, "y2": {"field": "T2"},
  "color": {"field": "k", "type": "nominal", "legend": null}}},
{"data": {"name": "legtxt"}, "mark": {"type": "text", "angle": 270, "align": "left", "baseline": "middle", "font": "Noto Sans CJK JP", "fontSize": 12, "color": "#000000"},
 "encoding": {"x": {"field": "LV", "type": "quantitative"}, "y": {"field": "T", "type": "quantitative"}, "text": {"field": "txt"}}},
{"data": {"name": "legrow"}, "transform": [{"filter": "datum.k == 1"}], "mark": {"type": "text", "angle": 270, "align": "left", "baseline": "middle", "font": "Noto Sans CJK JP", "fontSize": 12, "color": "#000000"},
 "encoding": {"x": {"field": "LV", "type": "quantitative"}, "y": {"field": "TS", "type": "quantitative"}, "text": {"value": "基準地震動Ss-1V　377gal"}}},
{"data": {"name": "legrow"}, "transform": [{"filter": "datum.k > 1"}], "mark": {"type": "text", "angle": 270, "align": "left", "baseline": "middle", "font": "Noto Sans CJK JP", "fontSize": 12, "color": "#000000"},
 "encoding": {"x": {"field": "LV", "type": "quantitative"}, "y": {"field": "TD", "type": "quantitative"}, "text": {"value": "UD"}}},
{"data": {"name": "albl"}, "mark": {"type": "text", "angle": 225, "align": "center", "baseline": "middle", "font": "Liberation Mono", "fontSize": 11, "color": "#222222"},
 "encoding": {"x": {"field": "V", "type": "quantitative"}, "y": {"field": "T", "type": "quantitative"}, "text": {"field": "txt"}}},
{"data": {"name": "dlbl"}, "mark": {"type": "text", "angle": 315, "align": "center", "baseline": "middle", "font": "Liberation Mono", "fontSize": 11, "color": "#222222"},
 "encoding": {"x": {"field": "V", "type": "quantitative"}, "y": {"field": "T", "type": "quantitative"}, "text": {"field": "txt"}}}
]
},
{
"spacing": 39,
"vconcat": [
{
"width": 656, "height": 489,
"title": {"text": "ＥＷ方向", "orient": "right", "angle": 270, "baseline": "top", "anchor": "middle", "font": "Noto Sans CJK JP", "fontSize": 27, "fontWeight": "normal", "color": "#000000", "offset": 4},
"layer": [
{"data": {"name": "diag"}, "mark": {"type": "rule", "clip": true, "color": "#b4b4b4", "strokeWidth": 1},
 "encoding": {
  "x": {"field": "V1", "type": "quantitative", "scale": {"type": "log", "domain": [0.1, 1000], "reverse": true, "nice": false},
   "axis": {"values": [0.1,0.2,0.3,0.4,0.5,0.6,0.7,0.8,0.9,1,2,3,4,5,6,7,8,9,10,20,30,40,50,60,70,80,90,100,200,300,400,500,600,700,800,900,1000], "format": "~g", "labelExpr": "indexof([0.1,1,10,100,1000], datum.value) >= 0 ? datum.label : ''", "grid": true, "gridColor": "#1e1e1e", "gridWidth": 1, "ticks": false, "domain": false, "labelAngle": 270, "labelAlign": "right", "labelBaseline": "middle", "labelPadding": 10, "labelFont": "Liberation Mono", "labelFontSize": 11, "labelColor": "#000000", "labelOverlap": false, "labelFlush": false, "labelBound": false, "title": "速　度　　(cm/s)", "titleAngle": 180, "titleBaseline": "bottom", "titleFont": "Noto Sans CJK JP", "titleFontSize": 11, "titleFontWeight": "normal", "titleColor": "#000000", "titlePadding": 6}},
  "y": {"field": "T1", "type": "quantitative", "scale": {"type": "log", "domain": [0.01, 10], "nice": false},
   "axis": {"orient": "right", "values": [0.01,0.02,0.03,0.04,0.05,0.06,0.07,0.08,0.09,0.1,0.2,0.3,0.4,0.5,0.6,0.7,0.8,0.9,1,2,3,4,5,6,7,8,9,10], "format": "~g", "labelExpr": "indexof([0.01,0.1,1,10], datum.value) >= 0 ? datum.label : ''", "grid": true, "gridColor": "#1e1e1e", "gridWidth": 1, "ticks": false, "domain": false, "labelAngle": 270, "labelAlign": "center", "labelBaseline": "top", "labelPadding": 10, "labelFont": "Liberation Mono", "labelFontSize": 11, "labelColor": "#000000", "labelOverlap": false, "labelFlush": false, "labelBound": false, "title": "周　期　　(秒)", "titleAngle": 270, "titleBaseline": "top", "titleFont": "Noto Sans CJK JP", "titleFontSize": 12, "titleFontWeight": "normal", "titleColor": "#000000", "titlePadding": 18}},
  "x2": {"field": "V2"}, "y2": {"field": "T2"}}},
{"data": {"name": "box"}, "mark": {"type": "rect", "fill": "#ffffff", "stroke": "#000000", "strokeWidth": 1},
 "encoding": {"x": {"field": "V1", "type": "quantitative"}, "x2": {"field": "V2"}, "y": {"field": "T1", "type": "quantitative"}, "y2": {"field": "T2"}}},
{"data": {"name": "ew"}, "transform": [{"filter": "datum.k > 1"}], "mark": {"type": "line", "strokeWidth": 1.8},
 "encoding": {"x": {"field": "V", "type": "quantitative"}, "y": {"field": "T", "type": "quantitative"}, "order": {"field": "T", "type": "quantitative"},
  "color": {"field": "k", "type": "nominal", "legend": null, "scale": {"domain": [1,2,3,4,5,6,7,8,9,10,11,12], "range": ["#000000","#404040","#8c8c8c","#3ee83e","#3cb371","#1f8a2e","#f27a1e","#f5a524","#14127a","#4a7be8","#7d1a87","#a8447a"]}}}},
{"data": {"name": "ew"}, "transform": [{"filter": "datum.k == 1"}], "mark": {"type": "line", "strokeWidth": 3, "color": "#000000"},
 "encoding": {"x": {"field": "V", "type": "quantitative"}, "y": {"field": "T", "type": "quantitative"}, "order": {"field": "T", "type": "quantitative"}}},
{"data": {"name": "legrow"}, "mark": {"type": "rule", "strokeWidth": 2.6},
 "encoding": {"x": {"field": "LV", "type": "quantitative"}, "y": {"field": "T1", "type": "quantitative"}, "y2": {"field": "T2"},
  "color": {"field": "k", "type": "nominal", "legend": null}}},
{"data": {"name": "legtxt"}, "mark": {"type": "text", "angle": 270, "align": "left", "baseline": "middle", "font": "Noto Sans CJK JP", "fontSize": 12, "color": "#000000"},
 "encoding": {"x": {"field": "LV", "type": "quantitative"}, "y": {"field": "T", "type": "quantitative"}, "text": {"field": "txt"}}},
{"data": {"name": "legrow"}, "transform": [{"filter": "datum.k == 1"}], "mark": {"type": "text", "angle": 270, "align": "left", "baseline": "middle", "font": "Noto Sans CJK JP", "fontSize": 12, "color": "#000000"},
 "encoding": {"x": {"field": "LV", "type": "quantitative"}, "y": {"field": "TS", "type": "quantitative"}, "text": {"value": "基準地震動Ss-1H　650gal"}}},
{"data": {"name": "legrow"}, "transform": [{"filter": "datum.k > 1"}], "mark": {"type": "text", "angle": 270, "align": "left", "baseline": "middle", "font": "Noto Sans CJK JP", "fontSize": 12, "color": "#000000"},
 "encoding": {"x": {"field": "LV", "type": "quantitative"}, "y": {"field": "TD", "type": "quantitative"}, "text": {"value": "EW"}}},
{"data": {"name": "albl"}, "mark": {"type": "text", "angle": 225, "align": "center", "baseline": "middle", "font": "Liberation Mono", "fontSize": 11, "color": "#222222"},
 "encoding": {"x": {"field": "V", "type": "quantitative"}, "y": {"field": "T", "type": "quantitative"}, "text": {"field": "txt"}}},
{"data": {"name": "dlbl"}, "mark": {"type": "text", "angle": 315, "align": "center", "baseline": "middle", "font": "Liberation Mono", "fontSize": 11, "color": "#222222"},
 "encoding": {"x": {"field": "V", "type": "quantitative"}, "y": {"field": "T", "type": "quantitative"}, "text": {"field": "txt"}}}
]
},
{
"width": 656, "height": 489,
"title": {"text": "ＮＳ方向", "orient": "right", "angle": 270, "baseline": "top", "anchor": "middle", "font": "Noto Sans CJK JP", "fontSize": 27, "fontWeight": "normal", "color": "#000000", "offset": 4},
"layer": [
{"data": {"name": "diag"}, "mark": {"type": "rule", "clip": true, "color": "#b4b4b4", "strokeWidth": 1},
 "encoding": {
  "x": {"field": "V1", "type": "quantitative", "scale": {"type": "log", "domain": [0.1, 1000], "reverse": true, "nice": false},
   "axis": {"values": [0.1,0.2,0.3,0.4,0.5,0.6,0.7,0.8,0.9,1,2,3,4,5,6,7,8,9,10,20,30,40,50,60,70,80,90,100,200,300,400,500,600,700,800,900,1000], "format": "~g", "labelExpr": "indexof([0.1,1,10,100,1000], datum.value) >= 0 ? datum.label : ''", "grid": true, "gridColor": "#1e1e1e", "gridWidth": 1, "ticks": false, "domain": false, "labelAngle": 270, "labelAlign": "right", "labelBaseline": "middle", "labelPadding": 10, "labelFont": "Liberation Mono", "labelFontSize": 11, "labelColor": "#000000", "labelOverlap": false, "labelFlush": false, "labelBound": false, "title": "速　度　　(cm/s)", "titleAngle": 180, "titleBaseline": "bottom", "titleFont": "Noto Sans CJK JP", "titleFontSize": 11, "titleFontWeight": "normal", "titleColor": "#000000", "titlePadding": 6}},
  "y": {"field": "T1", "type": "quantitative", "scale": {"type": "log", "domain": [0.01, 10], "nice": false},
   "axis": {"orient": "right", "values": [0.01,0.02,0.03,0.04,0.05,0.06,0.07,0.08,0.09,0.1,0.2,0.3,0.4,0.5,0.6,0.7,0.8,0.9,1,2,3,4,5,6,7,8,9,10], "format": "~g", "labelExpr": "indexof([0.01,0.1,1,10], datum.value) >= 0 ? datum.label : ''", "grid": true, "gridColor": "#1e1e1e", "gridWidth": 1, "ticks": false, "domain": false, "labelAngle": 270, "labelAlign": "center", "labelBaseline": "top", "labelPadding": 10, "labelFont": "Liberation Mono", "labelFontSize": 11, "labelColor": "#000000", "labelOverlap": false, "labelFlush": false, "labelBound": false, "title": "周　期　　(秒)", "titleAngle": 270, "titleBaseline": "top", "titleFont": "Noto Sans CJK JP", "titleFontSize": 12, "titleFontWeight": "normal", "titleColor": "#000000", "titlePadding": 18}},
  "x2": {"field": "V2"}, "y2": {"field": "T2"}}},
{"data": {"name": "box"}, "mark": {"type": "rect", "fill": "#ffffff", "stroke": "#000000", "strokeWidth": 1},
 "encoding": {"x": {"field": "V1", "type": "quantitative"}, "x2": {"field": "V2"}, "y": {"field": "T1", "type": "quantitative"}, "y2": {"field": "T2"}}},
{"data": {"name": "ns"}, "transform": [{"filter": "datum.k > 1"}], "mark": {"type": "line", "strokeWidth": 1.8},
 "encoding": {"x": {"field": "V", "type": "quantitative"}, "y": {"field": "T", "type": "quantitative"}, "order": {"field": "T", "type": "quantitative"},
  "color": {"field": "k", "type": "nominal", "legend": null, "scale": {"domain": [1,2,3,4,5,6,7,8,9,10,11,12], "range": ["#000000","#404040","#8c8c8c","#3ee83e","#3cb371","#1f8a2e","#f27a1e","#f5a524","#14127a","#4a7be8","#7d1a87","#a8447a"]}}}},
{"data": {"name": "ns"}, "transform": [{"filter": "datum.k == 1"}], "mark": {"type": "line", "strokeWidth": 3, "color": "#000000"},
 "encoding": {"x": {"field": "V", "type": "quantitative"}, "y": {"field": "T", "type": "quantitative"}, "order": {"field": "T", "type": "quantitative"}}},
{"data": {"name": "legrow"}, "mark": {"type": "rule", "strokeWidth": 2.6},
 "encoding": {"x": {"field": "LV", "type": "quantitative"}, "y": {"field": "T1", "type": "quantitative"}, "y2": {"field": "T2"},
  "color": {"field": "k", "type": "nominal", "legend": null}}},
{"data": {"name": "legtxt"}, "mark": {"type": "text", "angle": 270, "align": "left", "baseline": "middle", "font": "Noto Sans CJK JP", "fontSize": 12, "color": "#000000"},
 "encoding": {"x": {"field": "LV", "type": "quantitative"}, "y": {"field": "T", "type": "quantitative"}, "text": {"field": "txt"}}},
{"data": {"name": "legrow"}, "transform": [{"filter": "datum.k == 1"}], "mark": {"type": "text", "angle": 270, "align": "left", "baseline": "middle", "font": "Noto Sans CJK JP", "fontSize": 12, "color": "#000000"},
 "encoding": {"x": {"field": "LV", "type": "quantitative"}, "y": {"field": "TS", "type": "quantitative"}, "text": {"value": "基準地震動Ss-1H　650gal"}}},
{"data": {"name": "legrow"}, "transform": [{"filter": "datum.k > 1"}], "mark": {"type": "text", "angle": 270, "align": "left", "baseline": "middle", "font": "Noto Sans CJK JP", "fontSize": 12, "color": "#000000"},
 "encoding": {"x": {"field": "LV", "type": "quantitative"}, "y": {"field": "TD", "type": "quantitative"}, "text": {"value": "NS"}}},
{"data": {"name": "albl"}, "mark": {"type": "text", "angle": 225, "align": "center", "baseline": "middle", "font": "Liberation Mono", "fontSize": 11, "color": "#222222"},
 "encoding": {"x": {"field": "V", "type": "quantitative"}, "y": {"field": "T", "type": "quantitative"}, "text": {"field": "txt"}}},
{"data": {"name": "dlbl"}, "mark": {"type": "text", "angle": 315, "align": "center", "baseline": "middle", "font": "Liberation Mono", "fontSize": 11, "color": "#222222"},
 "encoding": {"x": {"field": "V", "type": "quantitative"}, "y": {"field": "T", "type": "quantitative"}, "text": {"field": "txt"}}}
]
}
]
}
]
}
